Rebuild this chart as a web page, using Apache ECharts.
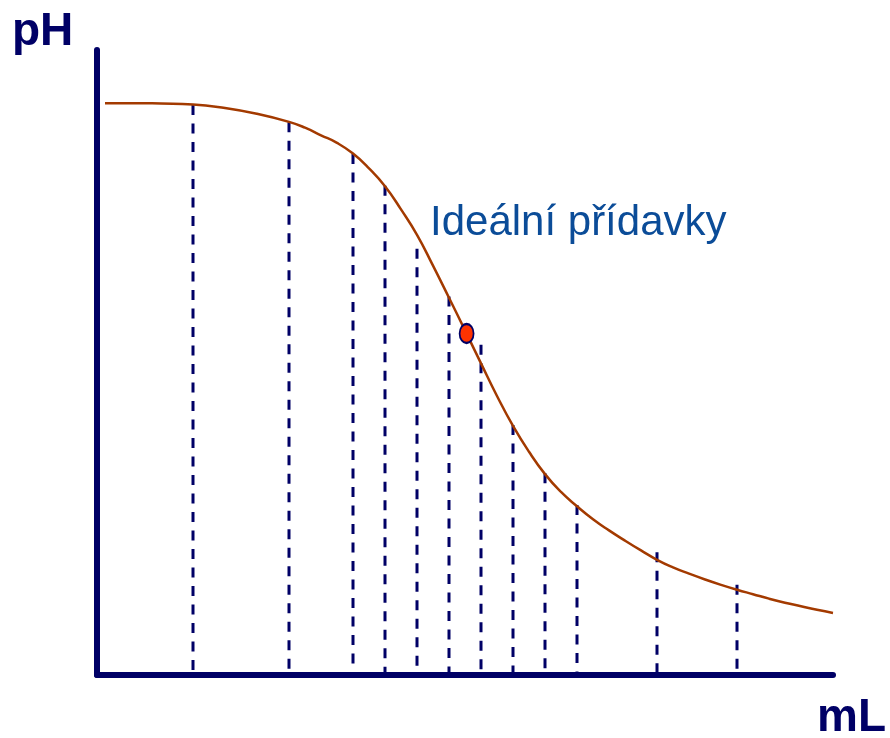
<!DOCTYPE html>
<html>
<head>
<meta charset="utf-8">
<title>Titrační křivka</title>
<script src="https://cdn.jsdelivr.net/npm/echarts@6/dist/echarts.min.js"></script>
<style>
  html, body { margin: 0; padding: 0; background: #fff; }
  #chart { width: 890px; height: 738px; }
</style>
</head>
<body>
<div id="chart"></div>
<script>
// titrační křivka (mL, pH)
const curveX = [0.5, 2, 4, 6, 8, 10, 12, 13, 14, 15, 16, 17, 18, 19, 20, 21, 22, 23, 24, 25, 26, 27, 28, 29, 30,
  31, 32, 33, 34, 35, 36, 37, 38, 39, 40, 41, 42, 43, 44, 45, 46]
const curvePH = [12.81, 12.81, 12.8, 12.78, 12.7, 12.57, 12.39, 12.26, 12.09, 11.92, 11.68, 11.35, 10.95, 10.43, 9.86, 9.17, 8.45, 7.72, 6.98, 6.25, 5.58, 5.0, 4.5, 4.1, 3.78,
  3.49, 3.24, 3.01, 2.79, 2.58, 2.41, 2.27, 2.14, 2.02, 1.91, 1.81, 1.71, 1.62, 1.54, 1.46, 1.39]

// přídavky titrantu (svislé čárkované čáry)
const additionX = [6, 12, 16, 18, 20, 22, 24, 26, 28, 30, 35, 40]
const additionTop = [12.77, 12.38, 11.67, 10.96, 9.55, 8.48, 7.4, 5.6, 4.52, 3.81, 2.75, 2.02]

// bod ekvivalence
const eqX = 23.1
const eqPH = 7.65

const xMax = 46
const yMax = 14

const navy = '#000066'
const font = '"Liberation Sans", Arial, sans-serif'

const chart = echarts.init(document.getElementById('chart'), null, { renderer: 'canvas' })

const axisCommon = {
  type: 'value',
  min: 0,
  axisLine: { show: true, onZero: false, lineStyle: { color: navy, width: 6, cap: 'round' } },
  axisTick: { show: false },
  axisLabel: { show: false },
  splitLine: { show: false }
}

chart.setOption({
  animation: false,
  backgroundColor: '#fff',
  grid: { left: 97, right: 57, top: 50, bottom: 63, containLabel: false },
  xAxis: { ...axisCommon, max: xMax },
  yAxis: { ...axisCommon, max: yMax },
  graphic: [
    { type: 'text', left: 12, top: 9, style: { text: 'pH', font: 'bold 46px ' + font, fill: navy } },
    { type: 'text', left: 817, top: 695, style: { text: 'mL', font: 'bold 46px ' + font, fill: navy } },
    { type: 'text', left: 430, top: 202, style: { text: 'Ideální přídavky', font: '42px ' + font, fill: '#0b4c98' } }
  ],
  series: [
    {
      type: 'custom',
      z: 2,
      data: additionX.map((x, i) => [x, additionTop[i]]),
      renderItem: (params, api) => {
        const top = api.coord([api.value(0), api.value(1)])
        const bottom = api.coord([api.value(0), 0])
        return {
          type: 'line',
          shape: { x1: top[0], y1: top[1], x2: bottom[0], y2: bottom[1] },
          style: { stroke: navy, lineWidth: 3, lineDash: [10, 8.5] }
        }
      }
    },
    {
      type: 'line',
      z: 3,
      data: curveX.map((x, i) => [x, curvePH[i]]),
      smooth: 0.5,
      showSymbol: false,
      lineStyle: { color: '#a33a00', width: 2.5 }
    },
    {
      type: 'scatter',
      z: 4,
      data: [[eqX, eqPH]],
      symbol: 'circle',
      symbolSize: [14, 19],
      itemStyle: { color: '#ff3300', borderColor: navy, borderWidth: 2, opacity: 1 }
    }
  ]
})
</script>
</body>
</html>
